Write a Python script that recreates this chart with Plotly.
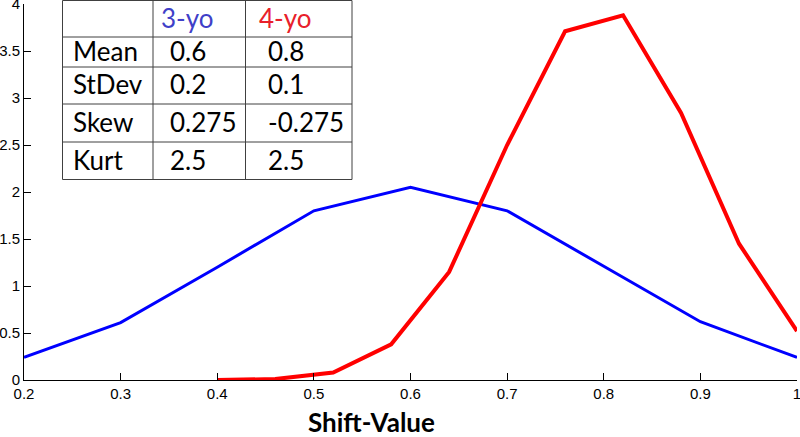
import plotly.graph_objects as go

# ---- data ----
x_3yo = [0.2, 0.3, 0.4, 0.5, 0.6, 0.7, 0.8, 0.9, 1.0]
y_3yo = [0.24, 0.61, 1.2, 1.8, 2.05, 1.8, 1.21, 0.62, 0.24]
x_4yo = [0.40, 0.46, 0.52, 0.58, 0.64, 0.70, 0.76, 0.82, 0.88, 0.94, 1.0]
y_4yo = [0.0, 0.01, 0.08, 0.38, 1.15, 2.5, 3.71, 3.88, 2.84, 1.45, 0.52]

x_ticks = [0.2, 0.3, 0.4, 0.5, 0.6, 0.7, 0.8, 0.9, 1.0]
x_ticklabels = ["0.2", "0.3", "0.4", "0.5", "0.6", "0.7", "0.8", "0.9", "1"]
y_ticks = [0, 0.5, 1, 1.5, 2, 2.5, 3, 3.5, 4]
y_ticklabels = ["0", "0.5", "1", "1.5", "2", "2.5", "3", "3.5", "4"]

table_headers = ["3-yo", "4-yo"]
table_rows = ["Mean", "StDev", "Skew", "Kurt"]
table_3yo = ["0.6", "0.2", "0.275", "2.5"]
table_4yo = ["0.8", "0.1", "-0.275", "2.5"]

# ---- layout geometry (pixels) ----
W, H = 800, 437
L, R, T, B = 24, 3, 4, 57
PW, PH = W - L - R, H - T - B

def px(xp):
    return (xp - L) / PW

def py(yp):
    return (H - B - yp) / PH

fig = go.Figure()
fig.add_trace(go.Scatter(x=x_3yo, y=y_3yo, mode="lines", cliponaxis=False,
                         line=dict(color="#0000FF", width=3), showlegend=False))
fig.add_trace(go.Scatter(x=x_4yo, y=y_4yo, mode="lines", cliponaxis=False,
                         line=dict(color="#FF0000", width=4), showlegend=False))

shapes = []
annotations = []

# table geometry
col_x = [62.5, 153, 245.5, 352]
row_y = [0.5, 37, 67, 104, 142, 179.5]
line_col = "#404040"
shapes.append(dict(type="rect", xref="paper", yref="paper",
                   x0=px(col_x[0]), x1=px(col_x[-1]), y0=py(row_y[-1]), y1=py(row_y[0]),
                   fillcolor="white", line=dict(color=line_col, width=1), layer="above"))
for cx in col_x[1:-1]:
    shapes.append(dict(type="line", xref="paper", yref="paper",
                       x0=px(cx), x1=px(cx), y0=py(row_y[-1]), y1=py(row_y[0]),
                       line=dict(color=line_col, width=1), layer="above"))
for ry in row_y[1:-1]:
    shapes.append(dict(type="line", xref="paper", yref="paper",
                       x0=px(col_x[0]), x1=px(col_x[-1]), y0=py(ry), y1=py(ry),
                       line=dict(color=line_col, width=1), layer="above"))

tfont = "Lato, Carlito, Calibri, sans-serif"
hdr_colors = ["#3F3FC8", "#E8202A"]
hdr_x = [159, 257]
for i, h in enumerate(table_headers):
    annotations.append(dict(xref="paper", yref="paper", x=px(hdr_x[i]), y=py(18),
                            text=h, showarrow=False, xanchor="left", yanchor="middle",
                            font=dict(family=tfont, size=26, color=hdr_colors[i])))
for r, lab in enumerate(table_rows):
    yc = (row_y[r + 1] + row_y[r + 2]) / 2 - 1
    annotations.append(dict(xref="paper", yref="paper", x=px(71), y=py(yc),
                            text=lab, showarrow=False, xanchor="left", yanchor="middle",
                            font=dict(family=tfont, size=26, color="black")))
    annotations.append(dict(xref="paper", yref="paper", x=px(168), y=py(yc),
                            text=table_3yo[r], showarrow=False, xanchor="left", yanchor="middle",
                            font=dict(family=tfont, size=26, color="black")))
    annotations.append(dict(xref="paper", yref="paper", x=px(266), y=py(yc),
                            text=table_4yo[r], showarrow=False, xanchor="left", yanchor="middle",
                            font=dict(family=tfont, size=26, color="black")))

# x-axis title
annotations.append(dict(xref="paper", yref="paper", x=px(371), y=py(422),
                        text="<b>Shift-Value</b>", showarrow=False,
                        xanchor="center", yanchor="middle",
                        font=dict(family=tfont, size=26, color="black")))

tickfont = dict(family="Liberation Sans, Arial", size=15, color="black")
fig.update_layout(
    width=W, height=H,
    margin=dict(l=L, r=R, t=T, b=B, autoexpand=False),
    paper_bgcolor="white", plot_bgcolor="white",
    shapes=shapes, annotations=annotations,
    xaxis=dict(range=[0.2, 1.0], tickvals=x_ticks, ticktext=x_ticklabels, automargin=False,
               showgrid=False, zeroline=False, showline=True, linecolor="black", linewidth=1,
               ticks="inside", ticklen=7, tickcolor="black", ticklabelstandoff=0,
               ticklabeloverflow="allow", tickfont=tickfont),
    yaxis=dict(range=[0, 4], tickvals=y_ticks, ticktext=y_ticklabels, automargin=False,
               showgrid=False, zeroline=False, showline=True, linecolor="black", linewidth=1,
               ticks="inside", ticklen=7, tickcolor="black", ticklabelstandoff=0,
               ticklabeloverflow="allow", tickfont=tickfont),
)

fig.write_html("out.html", config={"displayModeBar": False},
               post_script="document.body.style.margin='0';document.body.style.overflow='hidden';")
